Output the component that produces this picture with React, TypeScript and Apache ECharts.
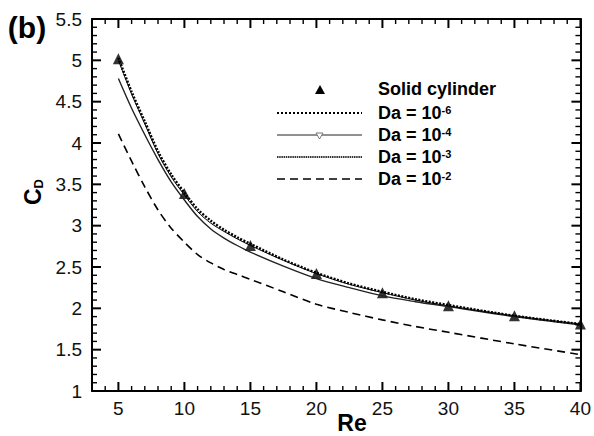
import React, { useEffect, useRef } from "react";
import * as echarts from "echarts";

const FONT = "'Liberation Sans', Arial, Helvetica, sans-serif";

// Reynolds numbers at which the computed curves are sampled
const RE = [5, 6, 7, 8, 9, 10, 11, 12, 13, 14, 15, 17.5, 20, 22.5, 25, 27.5, 30, 35, 40];
// Drag coefficient C_D for each Darcy number
const CD_DA6 = [5.03, 4.62, 4.26, 3.9, 3.62, 3.4, 3.2, 3.06, 2.95, 2.86, 2.78, 2.59, 2.43, 2.3, 2.2, 2.11, 2.04, 1.91, 1.81];
const CD_DA4 = [5.0, 4.59, 4.23, 3.87, 3.59, 3.37, 3.17, 3.03, 2.93, 2.84, 2.76, 2.58, 2.42, 2.29, 2.19, 2.1, 2.03, 1.91, 1.81];
const CD_DA3 = [4.78, 4.42, 4.1, 3.8, 3.53, 3.31, 3.11, 2.96, 2.85, 2.76, 2.68, 2.51, 2.36, 2.25, 2.15, 2.08, 2.02, 1.9, 1.8];
const CD_DA2 = [4.11, 3.78, 3.47, 3.19, 2.97, 2.8, 2.65, 2.55, 2.47, 2.41, 2.35, 2.2, 2.05, 1.95, 1.86, 1.78, 1.71, 1.57, 1.44];
// Solid cylinder reference points
const SOLID_RE = [5, 10, 15, 20, 25, 30, 35, 40];
const SOLID_CD = [5.02, 3.39, 2.76, 2.42, 2.19, 2.03, 1.91, 1.81];
// Axis ranges and ticks
const X_MIN = 3;
const X_MAX = 40;
const Y_MIN = 1;
const Y_MAX = 5.5;
const Y_STEP = 0.5;
const X_TICKS = [5, 10, 15, 20, 25, 30, 35, 40];
const X_MINOR = [4, 6, 7, 8, 9, 11, 12, 13, 14, 16, 17, 18, 19, 21, 22, 23, 24, 26, 27, 28, 29, 31, 32, 33, 34, 36, 37, 38, 39];
const Y_TICKS = [1, 1.5, 2, 2.5, 3, 3.5, 4, 4.5, 5, 5.5];
const Y_MINOR = [
  1.1, 1.2, 1.3, 1.4, 1.6, 1.7, 1.8, 1.9, 2.1, 2.2, 2.3, 2.4, 2.6, 2.7, 2.8, 2.9,
  3.1, 3.2, 3.3, 3.4, 3.6, 3.7, 3.8, 3.9, 4.1, 4.2, 4.3, 4.4, 4.6, 4.7, 4.8, 4.9,
  5.1, 5.2, 5.3, 5.4,
];
// Legend
const LEGEND_SOLID = "Solid cylinder";
const LEGEND_EXP = ["-6", "-4", "-3", "-2"];

const pairs = (xs: number[], ys: number[]) => xs.map((x, i) => [x, ys[i]]);

export default function App() {
  const ref = useRef<HTMLDivElement>(null);
  useEffect(() => {
    if (!ref.current) return;
    const chart = echarts.init(ref.current, null, { renderer: "svg" });
    const black = "#000";

    const axisBase = {
      type: "value",
      axisLine: { show: true, onZero: false, lineStyle: { color: black, width: 2 } },
      axisTick: { show: false },
      minorTick: { show: false },
      splitLine: { show: false },
      minorSplitLine: { show: false },
    };

    const lineSeries = (name: string, ys: number[], lineStyle: any) => ({
      name,
      type: "line",
      data: pairs(RE, ys),
      smooth: 0.3,
      symbol: "none",
      showSymbol: false,
      silent: true,
      lineStyle: { color: black, ...lineStyle },
    });

    // tick marks drawn through the axes' own scale (inward on all four sides)
    const xTickSeries = (vals: number[], len: number, width: number) => ({
      type: "custom",
      silent: true,
      clip: false,
      z: 10,
      data: vals.map((v) => [v, Y_MIN]),
      renderItem: (params: any, api: any) => {
        const v = api.value(0);
        const b = api.coord([v, Y_MIN]);
        const t = api.coord([v, Y_MAX]);
        const st = { stroke: black, lineWidth: width, fill: "none" };
        return {
          type: "group",
          children: [
            { type: "line", shape: { x1: b[0], y1: b[1], x2: b[0], y2: b[1] - len }, style: st },
            { type: "line", shape: { x1: t[0], y1: t[1], x2: t[0], y2: t[1] + len }, style: st },
          ],
        };
      },
    });
    const yTickSeries = (vals: number[], len: number, width: number) => ({
      type: "custom",
      silent: true,
      clip: false,
      z: 10,
      data: vals.map((v) => [X_MIN, v]),
      renderItem: (params: any, api: any) => {
        const v = api.value(1);
        const l = api.coord([X_MIN, v]);
        const r = api.coord([X_MAX, v]);
        const st = { stroke: black, lineWidth: width, fill: "none" };
        return {
          type: "group",
          children: [
            { type: "line", shape: { x1: l[0], y1: l[1], x2: l[0] + len, y2: l[1] }, style: st },
            { type: "line", shape: { x1: r[0], y1: r[1], x2: r[0] - len, y2: r[1] }, style: st },
          ],
        };
      },
    });

    const rowY = [89, 113, 135, 157, 179];
    const lx1 = 277;
    const lx2 = 362;
    const tx = 378;
    const legendText = (y: number, text: string) => ({
      type: "text",
      x: tx,
      y,
      style: {
        text,
        align: "left",
        verticalAlign: "middle",
        fill: black,
        rich: {
          a: { fontSize: 18, fontWeight: "bold", fontFamily: FONT, fill: black },
          s: { fontSize: 11, fontWeight: "bold", fontFamily: FONT, fill: black, verticalAlign: "top" },
        },
      },
    });

    chart.setOption({
      animation: false,
      backgroundColor: "#fff",
      textStyle: { fontFamily: FONT },
      grid: { left: 92, right: 12, top: 19, bottom: 45 },
      xAxis: [
        {
          ...axisBase,
          min: X_MIN,
          max: X_MAX,
          position: "bottom",
          axisLabel: { show: true, customValues: X_TICKS, margin: 8, fontSize: 19, color: "#111", fontFamily: FONT },
        },
        { ...axisBase, min: X_MIN, max: X_MAX, position: "top", axisLabel: { show: false } },
      ],
      yAxis: [
        {
          ...axisBase,
          min: Y_MIN,
          max: Y_MAX,
          interval: Y_STEP,
          position: "left",
          axisLabel: { show: true, margin: 10, fontSize: 19, color: "#111", fontFamily: FONT },
        },
        { ...axisBase, min: Y_MIN, max: Y_MAX, interval: Y_STEP, position: "right", axisLabel: { show: false } },
      ],
      series: [
        xTickSeries(X_TICKS, 9, 2),
        xTickSeries(X_MINOR, 5, 1.4),
        yTickSeries(Y_TICKS, 9, 2),
        yTickSeries(Y_MINOR, 5, 1.4),
        lineSeries("Da = 10^-2", CD_DA2, { width: 1.6, type: [8, 5] }),
        lineSeries("Da = 10^-3", CD_DA3, { width: 1.4, type: "solid", color: "#222" }),
        lineSeries("Da = 10^-4", CD_DA4, { width: 1, type: "solid" }),
        lineSeries("Da = 10^-6", CD_DA6, { width: 2.4, type: [2, 1.5] }),
        {
          name: LEGEND_SOLID,
          type: "scatter",
          data: pairs(SOLID_RE, SOLID_CD),
          symbol: "triangle",
          symbolSize: 11,
          silent: true,
          clip: false,
          itemStyle: { color: black },
        },
      ],
      graphic: [
        {
          type: "text",
          x: 27,
          y: 27,
          style: { text: "(b)", align: "center", verticalAlign: "middle", fontSize: 30, fontWeight: "bold", fontFamily: FONT, fill: black },
        },
        {
          type: "text",
          x: 352,
          y: 423,
          style: { text: "Re", align: "center", verticalAlign: "middle", fontSize: 23, fontWeight: "bold", fontFamily: FONT, fill: black },
        },
        {
          type: "text",
          x: 33,
          y: 192,
          rotation: Math.PI / 2,
          style: {
            text: "{c|C}{d|D}",
            align: "center",
            verticalAlign: "middle",
            rich: {
              c: { fontSize: 23, fontWeight: "bold", fontFamily: FONT, fill: black, lineHeight: 24 },
              d: { fontSize: 13, fontWeight: "bold", fontFamily: FONT, fill: black, verticalAlign: "bottom" },
            },
          },
        },
        // legend
        {
          type: "polygon",
          shape: { points: [[315, 94], [325, 94], [320, 85]] },
          style: { fill: black },
        },
        legendText(rowY[0], `{a|${LEGEND_SOLID}}`),
        {
          type: "line",
          shape: { x1: lx1, y1: rowY[1], x2: lx2, y2: rowY[1] },
          style: { stroke: black, lineWidth: 2, lineDash: [2, 2] },
        },
        legendText(rowY[1], `{a|Da = 10}{s|${LEGEND_EXP[0]}}`),
        {
          type: "line",
          shape: { x1: lx1, y1: rowY[2], x2: lx2, y2: rowY[2] },
          style: { stroke: "#222", lineWidth: 1 },
        },
        {
          type: "polygon",
          shape: { points: [[316, rowY[2] - 2], [323, rowY[2] - 2], [319.5, rowY[2] + 4]] },
          style: { fill: "#fff", stroke: "#777", lineWidth: 1 },
        },
        legendText(rowY[2], `{a|Da = 10}{s|${LEGEND_EXP[1]}}`),
        {
          type: "line",
          shape: { x1: lx1, y1: rowY[3], x2: lx2, y2: rowY[3] },
          style: { stroke: "#333", lineWidth: 1.8, lineDash: [1.5, 0.7] },
        },
        legendText(rowY[3], `{a|Da = 10}{s|${LEGEND_EXP[2]}}`),
        {
          type: "line",
          shape: { x1: lx1, y1: rowY[4], x2: lx2, y2: rowY[4] },
          style: { stroke: black, lineWidth: 1.6, lineDash: [8, 5] },
        },
        legendText(rowY[4], `{a|Da = 10}{s|${LEGEND_EXP[3]}}`),
      ],
    });
    return () => chart.dispose();
  }, []);
  return (
    <div
      ref={ref}
      style={{ position: "absolute", left: 0, top: 0, width: 594, height: 436, background: "#fff" }}
    />
  );
}
